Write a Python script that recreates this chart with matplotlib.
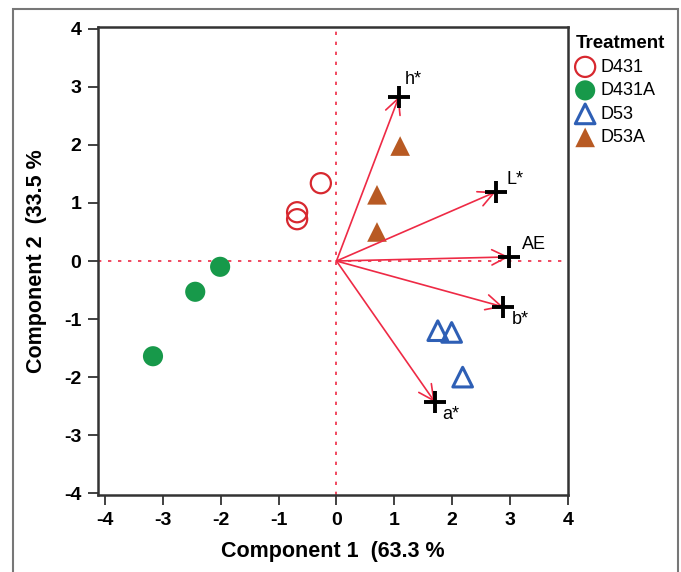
import matplotlib.pyplot as plt
from matplotlib.patches import Rectangle

plt.rcParams['font.family'] = ['Liberation Sans', 'DejaVu Sans']
plt.rcParams['axes.unicode_minus'] = False

# scores per treatment
d431_x = [-0.27, -0.68, -0.68]
d431_y = [1.34, 0.84, 0.72]
d431a_x = [-2.01, -2.44, -3.17]
d431a_y = [-0.10, -0.53, -1.64]
d53_x = [1.75, 1.99, 2.18]
d53_y = [-1.20, -1.23, -2.00]
d53a_x = [1.10, 0.70, 0.70]
d53a_y = [1.98, 1.14, 0.50]

# loadings (vectors)
load_names = ["h*", "L*", "AE", "b*", "a*"]
load_x = [1.08, 2.75, 2.98, 2.88, 1.70]
load_y = [2.83, 1.19, 0.07, -0.79, -2.43]
label_off = [(0.10, 0.30), (0.18, 0.22), (0.22, 0.22), (0.15, -0.22), (0.12, -0.22)]

xticks = [-4, -3, -2, -1, 0, 1, 2, 3, 4]
yticks = [-4, -3, -2, -1, 0, 1, 2, 3, 4]

arrow_col = '#ee2a45'

fig = plt.figure(figsize=(6.81, 5.72), dpi=100)
ax = fig.add_axes([98 / 681, 1 - 495 / 572, 470 / 681, 468 / 572])

# outer frame
fig.patches.append(Rectangle((13 / 681, -0.05), 665 / 681, 1.05 - 9 / 572,
                             transform=fig.transFigure, fill=False,
                             edgecolor='#777777', lw=1.5))

ax.axhline(0, color=arrow_col, ls=(0, (2, 4)), lw=1.2, zorder=1)
ax.axvline(0, color=arrow_col, ls=(0, (2, 4)), lw=1.2, zorder=1)

ax.scatter(d431_x, d431_y, s=210, facecolors='none', edgecolors='#d7282f', linewidths=1.6, label='D431', zorder=3)
ax.scatter(d431a_x, d431a_y, s=210, color='#17994a', edgecolors='none', label='D431A', zorder=3)
ax.scatter(d53_x, d53_y, s=200, marker='^', facecolors='none', edgecolors='#2e5fb5', linewidths=2.2, label='D53', zorder=3)
ax.scatter(d53a_x, d53a_y, s=200, marker='^', color='#b85a23', edgecolors='none', label='D53A', zorder=3)

for name, x, y, (dx, dy) in zip(load_names, load_x, load_y, label_off):
    ax.annotate('', xy=(x, y), xytext=(0, 0),
                arrowprops=dict(arrowstyle='->,head_length=1.1,head_width=0.55',
                                color=arrow_col, lw=1.2, shrinkA=0, shrinkB=0),
                zorder=4)
    ax.plot(x, y, marker='+', color='black', ms=16, mew=2.8, zorder=5)
    ax.text(x + dx, y + dy, name, fontsize=13, ha='left', va='center', zorder=6)

ax.set_xlim(-4.12, 4.0)
ax.set_ylim(-4.03, 4.03)
ax.set_xticks(xticks)
ax.set_yticks(yticks)
ax.tick_params(direction='out', length=7, width=1.3, color='#333333', labelsize=14, pad=5)
for lab in ax.get_xticklabels() + ax.get_yticklabels():
    lab.set_fontweight('bold')
for sp in ax.spines.values():
    sp.set_linewidth(1.8)
    sp.set_color('#333333')

ax.set_xlabel('Component 1  (63.3 %', fontsize=15.5, fontweight='bold', labelpad=9)
ax.set_ylabel('Component 2  (33.5 %', fontsize=15.5, fontweight='bold', labelpad=12)

leg = ax.legend(title='Treatment', loc='upper left', bbox_to_anchor=(1.0, 1.0),
                frameon=False, fontsize=13, title_fontproperties={'weight': 'bold', 'size': 13.5},
                handletextpad=0.35, labelspacing=0.36, borderaxespad=0.15, handlelength=1.0,
                borderpad=0.3)
leg._legend_box.align = 'left'

fig.savefig('out.png', dpi=100)
